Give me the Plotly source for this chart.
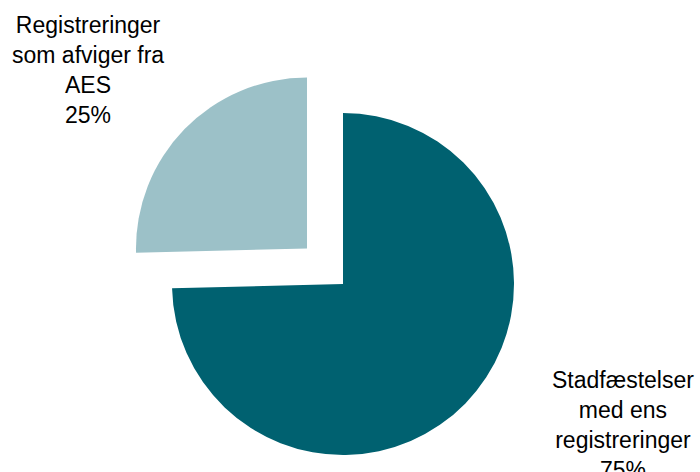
import plotly.graph_objects as go

# Data
categories = ["Stadfæstelser med ens registreringer", "Registreringer som afviger fra AES"]
label_lines = ["Stadfæstelser<br>med ens<br>registreringer", "Registreringer<br>som afviger fra<br>AES"]
values = [74.6, 25.4]
colors = ["#006170", "#9cc1c8"]

W, H = 700, 472
total = sum(values)
pcts = [round(v / total * 100) for v in values]

fig = go.Figure()

# Main (dark) slice drawn at its own centre; the pulled (light) slice drawn as a second,
# offset pie so the exploded look matches the reference.
def dom(cx, cy, r):
    return dict(x=[(cx - r) / W, (cx + r) / W], y=[(H - cy - r) / H, (H - cy + r) / H])

r = 171
fig.add_trace(go.Pie(
    labels=categories, values=values, sort=False, direction="clockwise", rotation=0,
    marker=dict(colors=[colors[0], "rgba(0,0,0,0)"], line=dict(width=0)),
    textinfo="none", hoverinfo="skip", showlegend=False,
    domain=dom(343, 284, r),
))
fig.add_trace(go.Pie(
    labels=categories, values=values, sort=False, direction="clockwise", rotation=0,
    marker=dict(colors=["rgba(0,0,0,0)", colors[1]], line=dict(width=0)),
    textinfo="none", hoverinfo="skip", showlegend=False,
    domain=dom(307, 248.5, r),
))

label_pos = [(623 / W, 1 - 365 / H), (88.5 / W, 1 - 10 / H)]
for txt, p, (ax, ay) in zip(label_lines, pcts, label_pos):
    fig.add_annotation(
        text=f"{txt}<br>{p}%", x=ax, y=ay, xref="paper", yref="paper",
        xanchor="center", yanchor="top", showarrow=False, align="center",
        font=dict(family="Liberation Sans, Arial, sans-serif", size=23, color="#000000"),
    )

fig.update_layout(
    width=W, height=H, margin=dict(l=0, r=0, t=0, b=0),
    paper_bgcolor="white", plot_bgcolor="white", showlegend=False,
)

fig.write_html("out.html", config={"displayModeBar": False},
               post_script="document.body.style.margin='0px';")
